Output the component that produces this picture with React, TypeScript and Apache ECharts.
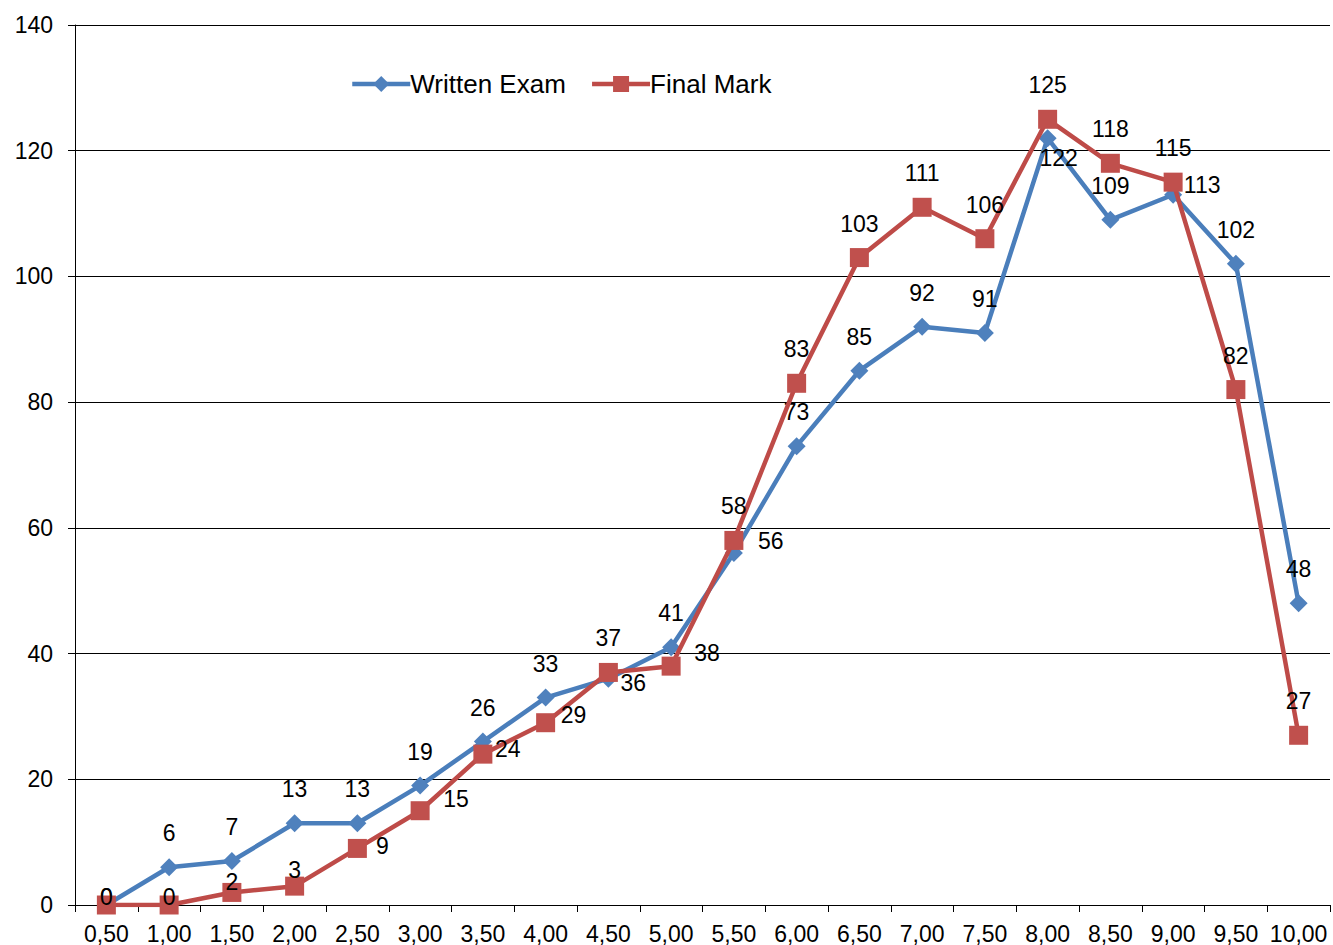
import React, { useEffect, useRef } from "react";
import * as echarts from "echarts";

const categories = [
  "0,50", "1,00", "1,50", "2,00", "2,50", "3,00", "3,50", "4,00", "4,50", "5,00",
  "5,50", "6,00", "6,50", "7,00", "7,50", "8,00", "8,50", "9,00", "9,50", "10,00",
];
const writtenExam = [0, 6, 7, 13, 13, 19, 26, 33, 36, 41, 56, 73, 85, 92, 91, 122, 109, 113, 102, 48];
const finalMark = [0, 0, 2, 3, 9, 15, 24, 29, 37, 38, 58, 83, 103, 111, 106, 125, 118, 115, 82, 27];

// label placement (layout only): offset of label centre from the marker centre
const defaultOffset: [number, number] = [0, -34];
const writtenLabelOffsets: Record<number, [number, number]> = {
  0: [0, -8],
  8: [25, 4],
  10: [37, -12],
  15: [11, 20],
  17: [29, -10],
};
const finalLabelOffsets: Record<number, [number, number]> = {
  0: [0, -8],
  1: [0, -8],
  2: [0, -10],
  3: [0, -16],
  4: [25, -2],
  5: [36, -12],
  6: [25, -5],
  7: [28, -8],
  9: [36, -13],
};

const FONT = "'Liberation Sans', Arial, sans-serif";

function buildData(values: number[], offsets: Record<number, [number, number]>) {
  return values.map((v, i) => ({
    value: v,
    label: { offset: offsets[i] || defaultOffset },
  }));
}

export default function App() {
  const ref = useRef<HTMLDivElement>(null);
  useEffect(() => {
    if (!ref.current) return;
    const chart = echarts.init(ref.current, null, { renderer: "svg" });
    const labelBase = {
      show: true,
      position: "inside",
      color: "#000",
      fontSize: 23,
      fontFamily: FONT,
    };
    chart.setOption({
      animation: false,
      backgroundColor: "#fff",
      grid: { left: 75, right: 3, top: 25, bottom: 40, containLabel: false },
      legend: {
        left: 345,
        top: 66,
        itemWidth: 58,
        itemHeight: 20,
        itemGap: 24,
        lineStyle: { width: 4.5 },
        textStyle: { fontSize: 26, fontFamily: FONT, color: "#000", padding: [0, 0, 0, -5] },
        data: ["Written Exam", "Final Mark"],
      },
      xAxis: {
        type: "category",
        data: categories,
        boundaryGap: true,
        axisLine: { show: true, lineStyle: { color: "#000", width: 1 } },
        axisTick: { show: true, interval: 0, length: 7, lineStyle: { color: "#000" } },
        axisLabel: { interval: 0, margin: 17, fontSize: 23, fontFamily: FONT, color: "#000" },
        splitLine: { show: false },
      },
      yAxis: {
        type: "value",
        min: 0,
        max: 140,
        interval: 20,
        axisLine: { show: true, lineStyle: { color: "#000", width: 1 } },
        axisTick: { show: true, length: 7, lineStyle: { color: "#000" } },
        axisLabel: { margin: 22, fontSize: 23, fontFamily: FONT, color: "#000" },
        splitLine: { show: true, lineStyle: { color: "#000", width: 1 } },
      },
      series: [
        {
          name: "Written Exam",
          type: "line",
          data: buildData(writtenExam, writtenLabelOffsets),
          symbol: "diamond",
          symbolSize: 18,
          lineStyle: { color: "#4A7EBB", width: 4.5 },
          itemStyle: { color: "#4F81BD", borderColor: "#4A7EBB", borderWidth: 0 },
          label: labelBase,
          z: 2,
        },
        {
          name: "Final Mark",
          type: "line",
          data: buildData(finalMark, finalLabelOffsets),
          symbol: "rect",
          symbolSize: 19,
          lineStyle: { color: "#BE4B48", width: 4.5 },
          itemStyle: { color: "#C0504D", borderColor: "#BE4B48", borderWidth: 0 },
          label: labelBase,
          z: 3,
        },
      ],
    });
    return () => chart.dispose();
  }, []);
  return <div ref={ref} style={{ width: 1333, height: 945, position: "absolute", left: 0, top: 0 }} />;
}
